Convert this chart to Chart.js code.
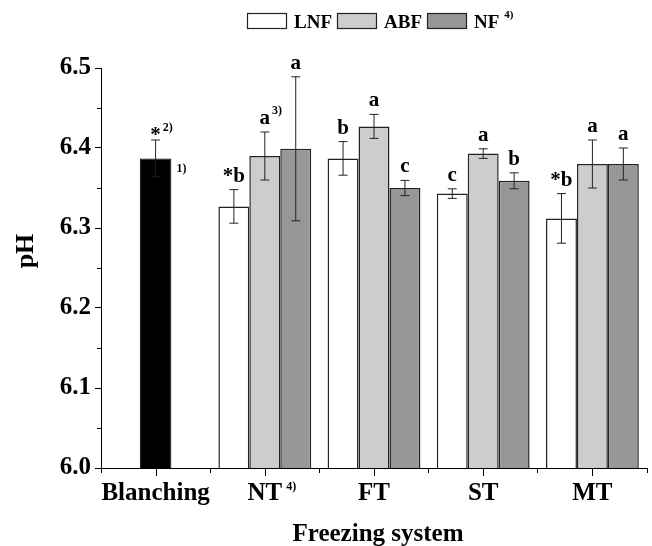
<!DOCTYPE html>
<html><head><meta charset="utf-8">
<script src="https://cdn.jsdelivr.net/npm/chart.js@4/dist/chart.umd.min.js"></script>
<style>html,body{margin:0;padding:0;background:#fff}#wrap{width:652px;height:546px}</style>
</head><body><div id="wrap"><canvas id="c" width="652" height="546"></canvas></div>
<script>
// ---- data ----
const categories = ["Blanching", "NT", "FT", "ST", "MT"];
const categoryNotes = ["", "4)", "", "", ""];
const seriesNames = ["LNF", "ABF", "NF"];
const seriesNotes = ["", "", "4)"];

const blanching = [6.387, null, null, null, null];
const blanchingSd = [0.023, null, null, null, null];
const blanchingLetters = ["*", "", "", "", ""];
const blanchingNotes = ["2)", "", "", "", ""];
const blanchingBarNote = "1)";

const lnf = [null, 6.327, 6.387, 6.343, 6.312];
const lnfSd = [null, 0.021, 0.021, 0.006, 0.031];
const lnfLetters = ["", "*b", "b", "c", "*b"];
const lnfNotes = ["", "", "", "", ""];

const abf = [null, 6.390, 6.427, 6.393, 6.380];
const abfSd = [null, 0.030, 0.015, 0.006, 0.030];
const abfLetters = ["", "a", "a", "a", "a"];
const abfNotes = ["", "3)", "", "", ""];

const nf = [null, 6.399, 6.350, 6.359, 6.380];
const nfSd = [null, 0.090, 0.0095, 0.010, 0.020];
const nfLetters = ["", "a", "c", "b", "a"];
const nfNotes = ["", "", "", "", ""];

const yMin = 6.0, yMax = 6.5, yStep = 0.1;
const yTitle = "pH";
const xTitle = "Freezing system";

// ---- style ----
const FF = '"Liberation Serif","Times New Roman",serif';
const EDGE = '#222';

const errorBars = {
  id: 'errorBars',
  afterDatasetsDraw(chart) {
    const ctx = chart.ctx, ys = chart.scales.y;
    chart.data.datasets.forEach((ds, i) => {
      const meta = chart.getDatasetMeta(i);
      ds.data.forEach((v, j) => {
        if (v == null) return;
        const sd = ds.errors[j];
        const bar = meta.data[j];
        const x = bar.x;
        const yt = ys.getPixelForValue(v + sd), yb = ys.getPixelForValue(v - sd);
        ctx.save();
        ctx.strokeStyle = EDGE; ctx.lineWidth = 1;
        ctx.beginPath();
        ctx.moveTo(x, yb); ctx.lineTo(x, yt);
        ctx.moveTo(x - 4.5, yt); ctx.lineTo(x + 4.5, yt);
        ctx.moveTo(x - 4.5, yb); ctx.lineTo(x + 4.5, yb);
        ctx.stroke();
        const letter = ds.letters[j];
        const ly = letter === '*' ? yt + 1 : yt - 8;
        ctx.fillStyle = '#000';
        ctx.font = 'bold 21px ' + FF;
        ctx.textAlign = 'center'; ctx.textBaseline = 'alphabetic';
        ctx.fillText(letter, x, ly);
        const note = ds.notes[j];
        if (note) {
          const w = ctx.measureText(letter).width;
          ctx.font = 'bold 12px ' + FF; ctx.textAlign = 'left';
          ctx.fillText(note, x + w / 2 + 2, ly - 10);
        }
        if (ds.barNote) {
          const bt = ys.getPixelForValue(v);
          ctx.font = 'bold 12px ' + FF; ctx.textAlign = 'left';
          ctx.fillText(ds.barNote, x + bar.width / 2 + 5, bt + 14);
        }
        ctx.restore();
      });
    });
  }
};

const decor = {
  id: 'decor',
  afterDraw(chart) {
    const ctx = chart.ctx, xs = chart.scales.x, ys = chart.scales.y, ca = chart.chartArea;
    ctx.save();
    ctx.strokeStyle = '#000'; ctx.lineWidth = 1;
    // x center ticks
    ctx.beginPath();
    categories.forEach((c, i) => {
      const px = Math.round(xs.getPixelForValue(i)) + 0.5;
      ctx.moveTo(px, ca.bottom); ctx.lineTo(px, ca.bottom + 8);
    });
    // y minor ticks
    for (let v = yMin + yStep / 2; v < yMax; v += yStep) {
      const py = Math.round(ys.getPixelForValue(v)) + 0.5;
      ctx.moveTo(ca.left, py); ctx.lineTo(ca.left - 4, py);
    }
    ctx.stroke();
    ctx.fillStyle = '#000';
    // category notes
    categories.forEach((c, i) => {
      if (!categoryNotes[i]) return;
      ctx.font = 'bold 25px ' + FF;
      const w = ctx.measureText(c).width;
      const px = xs.getPixelForValue(i);
      ctx.font = 'bold 12px ' + FF; ctx.textAlign = 'left'; ctx.textBaseline = 'alphabetic';
      ctx.fillText(categoryNotes[i], px + w / 2 + 4, 490);
    });
    // titles
    ctx.font = 'bold 25px ' + FF; ctx.textAlign = 'center'; ctx.textBaseline = 'alphabetic';
    ctx.fillText(xTitle, (ca.left + ca.right) / 2 + 4, 541);
    ctx.save();
    ctx.translate(33, 251); ctx.rotate(-Math.PI / 2);
    ctx.font = 'bold 26px ' + FF; ctx.textAlign = 'center'; ctx.textBaseline = 'alphabetic';
    ctx.fillText(yTitle, 0, 0);
    ctx.restore();
    // legend
    let lx = 247; const top = 13, h = 15, bw = 39;
    seriesNames.forEach((name, i) => {
      const ds = chart.data.datasets[i + 1];
      ctx.fillStyle = ds.backgroundColor; ctx.fillRect(lx, top, bw, h);
      ctx.strokeStyle = EDGE; ctx.lineWidth = 1.2; ctx.strokeRect(lx + 0.5, top + 0.5, bw, h);
      ctx.fillStyle = '#000';
      ctx.font = 'bold 19px ' + FF; ctx.textAlign = 'left'; ctx.textBaseline = 'alphabetic';
      ctx.fillText(name, lx + bw + 8, top + h - 0.5);
      lx += bw + 8 + ctx.measureText(name).width;
      if (seriesNotes[i]) {
        ctx.font = 'bold 11px ' + FF;
        ctx.fillText(seriesNotes[i], lx + 5, top + 5);
        lx += 5 + ctx.measureText(seriesNotes[i]).width;
      }
      lx += 5;
    });
    ctx.restore();
  }
};

new Chart(document.getElementById('c'), {
  type: 'bar',
  data: {
    labels: categories,
    datasets: [
      { label: 'Blanching', data: blanching, errors: blanchingSd, letters: blanchingLetters, notes: blanchingNotes, barNote: blanchingBarNote,
        backgroundColor: '#000000', borderColor: '#000000', borderWidth: 1, grouped: false, categoryPercentage: 0.85, barPercentage: 0.34 },
      { label: seriesNames[0], data: lnf, errors: lnfSd, letters: lnfLetters, notes: lnfNotes,
        backgroundColor: '#ffffff', borderColor: EDGE, borderWidth: 1.5 },
      { label: seriesNames[1], data: abf, errors: abfSd, letters: abfLetters, notes: abfNotes,
        backgroundColor: '#cdcdcd', borderColor: EDGE, borderWidth: 1.5 },
      { label: seriesNames[2], data: nf, errors: nfSd, letters: nfLetters, notes: nfNotes,
        backgroundColor: '#979797', borderColor: EDGE, borderWidth: 1.5 }
    ]
  },
  options: {
    responsive: false,
    animation: false,
    devicePixelRatio: 1,
    categoryPercentage: 0.85,
    barPercentage: 1.0,
    layout: { padding: { top: 68, right: 5, left: 0, bottom: 0 } },
    plugins: { legend: { display: false }, tooltip: { enabled: false } },
    scales: {
      x: {
        grid: { display: true, drawOnChartArea: false, offset: true, tickLength: 5, color: '#000', lineWidth: 1 },
        border: { display: true, color: '#000', width: 1 },
        ticks: { color: '#000', font: { family: FF, size: 25, weight: 'bold' }, padding: 6, maxRotation: 0, minRotation: 0, autoSkip: false },
        afterFit(s) { s.height = 78; }
      },
      y: {
        min: yMin, max: yMax,
        grid: { display: true, drawOnChartArea: false, tickLength: 6, color: '#000', lineWidth: 1 },
        border: { display: true, color: '#000', width: 1 },
        ticks: { stepSize: yStep, color: '#000', font: { family: FF, size: 25, weight: 'bold' }, padding: 4,
                 callback: (v) => Number(v).toFixed(1) },
        afterFit(s) { s.width = 101; }
      }
    }
  },
  plugins: [errorBars, decor]
});
</script>
</body></html>
